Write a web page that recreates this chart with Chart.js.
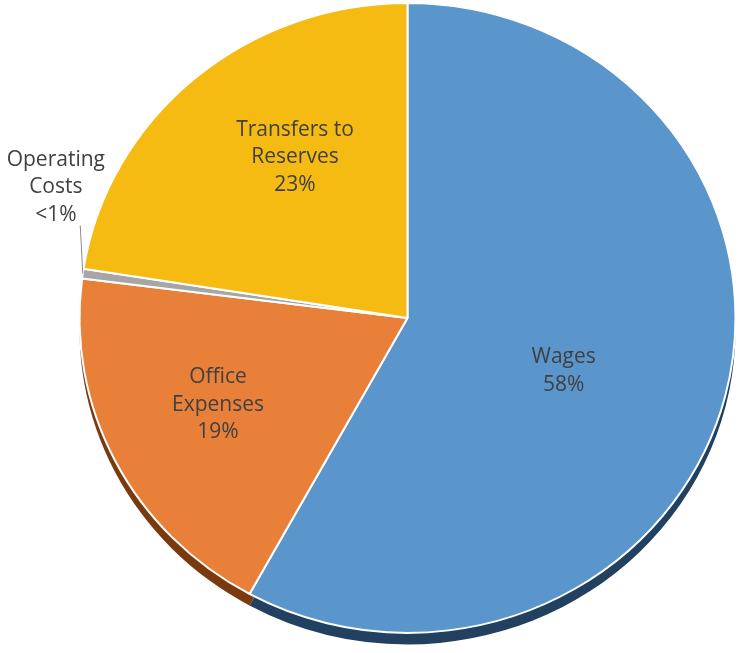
<!DOCTYPE html>
<html lang="en">
<head>
<meta charset="UTF-8">
<title>Spending Breakdown</title>
<script src="https://cdn.jsdelivr.net/npm/chart.js@4.4.0/dist/chart.umd.min.js"></script>
<style>
  html, body { margin: 0; padding: 0; background: #fff; }
  #wrap { width: 740px; height: 653px; }
</style>
</head>
<body>
<div id="wrap"><canvas id="pie"></canvas></div>
<script>
// data
const categories = [['Wages'], ['Office', 'Expenses'], ['Operating', 'Costs'], ['Transfers to', 'Reserves']];
const shares = [58, 19, 0.5, 22.5];
const shareLabels = ['58%', '19%', '<1%', '23%'];

const sliceColors = ['#5A96CC', '#E8803A', '#A6A6A6', '#F6BB12'];
const depthColors = ['#22405F', '#7A3A10', '#555555', '#8A6A08'];

// label placement: extra turn (deg) from slice middle, and distance as fraction of radius
const labelTurn = [5.1, 1.5, 13.1, 6.6];
const labelReach = [0.505, 0.64, 1.15, 0.615];

const squash = 0.96;   // slight tilt, pie is a bit flatter than wide
const depth = 12;      // thickness of the 3d edge

const tilt = {
    id: 'tilt',
    beforeDatasetsDraw(chart) {
        const ctx = chart.ctx;
        const arcs = chart.getDatasetMeta(0).data;
        const cx = arcs[0].x, cy = arcs[0].y;
        ctx.save();
        ctx.translate(cx, cy);
        ctx.scale(1, squash);
        ctx.translate(-cx, -cy);
        // draw the dark side of each slice first, shifted down
        arcs.forEach((a, i) => {
            ctx.beginPath();
            ctx.moveTo(a.x, a.y + depth);
            ctx.arc(a.x, a.y + depth, a.outerRadius, a.startAngle, a.endAngle);
            ctx.closePath();
            ctx.fillStyle = depthColors[i];
            ctx.fill();
        });
    },
    afterDatasetsDraw(chart) {
        const ctx = chart.ctx;
        ctx.restore();
        const arcs = chart.getDatasetMeta(0).data;
        ctx.save();
        ctx.font = '21px "Open Sans"';
        ctx.fillStyle = '#404040';
        ctx.textAlign = 'center';
        ctx.textBaseline = 'middle';
        arcs.forEach((a, i) => {
            const mid = (a.startAngle + a.endAngle) / 2;
            const ang = mid + labelTurn[i] * Math.PI / 180;
            const r = a.outerRadius * labelReach[i];
            const x = a.x + Math.cos(ang) * r;
            const y = a.y + Math.sin(ang) * r * squash;
            const lines = categories[i].concat(shareLabels[i]);
            const lh = 27.5;
            lines.forEach((t, k) => {
                ctx.fillText(t, x, y + (k - (lines.length - 1) / 2) * lh);
            });
            // leader line for the label sitting outside the pie
            if (labelReach[i] > 1) {
                const end = mid + 8.3 * Math.PI / 180;
                ctx.beginPath();
                ctx.moveTo(a.x + Math.cos(mid) * a.outerRadius, a.y + Math.sin(mid) * a.outerRadius * squash);
                ctx.lineTo(a.x + Math.cos(end) * a.outerRadius * 1.04, a.y + Math.sin(end) * a.outerRadius * 1.04 * squash);
                ctx.strokeStyle = '#8C8C8C';
                ctx.lineWidth = 1;
                ctx.stroke();
            }
        });
        ctx.restore();
    }
};

new Chart(document.getElementById('pie'), {
    type: 'pie',
    data: {
        labels: categories,
        datasets: [{
            data: shares,
            backgroundColor: sliceColors,
            borderColor: '#ffffff',
            borderWidth: 2,
            radius: 328,
            clip: false
        }]
    },
    options: {
        responsive: true,
        maintainAspectRatio: false,
        animation: false,
        layout: { padding: { left: 79, right: 4, top: 3, bottom: 20 } },
        plugins: {
            legend: { display: false },
            tooltip: { enabled: false }
        }
    },
    plugins: [tilt]
});
</script>
</body>
</html>
